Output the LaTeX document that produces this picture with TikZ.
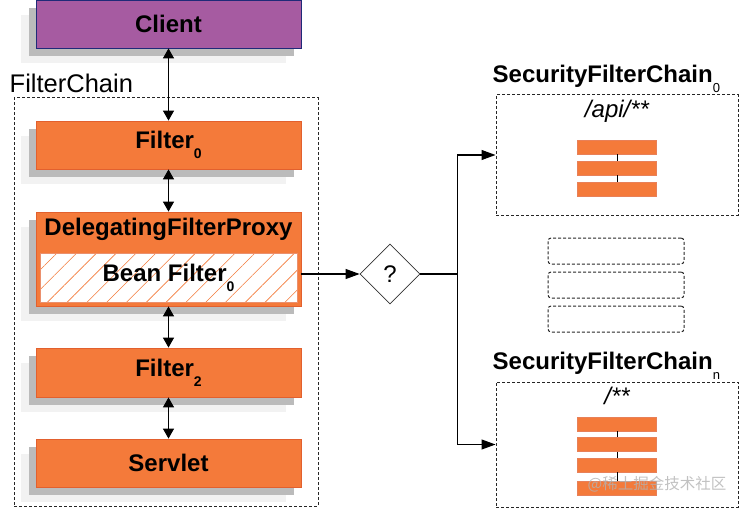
\documentclass[tikz,border=0pt]{standalone}
\usepackage{fontspec}
\setmainfont{Liberation Sans}
\newfontfamily\cjkfont{Noto Sans CJK SC}
\usepackage{tikz}
\usetikzlibrary{arrows.meta, positioning, shapes.geometric, shadows, patterns.meta}
\definecolor{springorange}{HTML}{F47A3A}
\definecolor{orangeline}{HTML}{E2602E}
\definecolor{clientpurple}{HTML}{A65BA1}
\definecolor{clientnavy}{HTML}{1F2A78}
\definecolor{shadowdark}{HTML}{BBBBBB}
\definecolor{shadowlight}{HTML}{F2F2F2}
\newcommand{\lowsub}[1]{\raisebox{-0.42em}{\fontsize{14}{14}\selectfont #1}}

\begin{document}
\begin{tikzpicture}[x=1pt, y=-1pt,
    stackshadow/.style={drop shadow={shadow xshift=-15pt, shadow yshift=-15pt, fill=shadowlight, opacity=1},
                        drop shadow={shadow xshift=-7pt, shadow yshift=-8pt, fill=shadowdark, opacity=1}},
    filterbox/.style={draw=orangeline, fill=springorange, line width=0.8pt, minimum width=265pt, minimum height=48pt,
                      inner sep=0pt, font=\fontsize{24}{28}\selectfont\bfseries, stackshadow},
    beanbox/.style={draw=orangeline!70, line width=0.8pt, preaction={fill=white},
                    pattern={Lines[angle=45, distance=14pt, line width=0.6pt]}, pattern color=springorange,
                    minimum width=257pt, minimum height=49pt, inner sep=0pt},
    boxtext/.style={font=\fontsize{24}{28}\selectfont\bfseries, inner sep=0pt},
    chaintitle/.style={font=\fontsize{24}{28}\selectfont\bfseries, inner sep=0pt, anchor=base west},
    pathtext/.style={font=\fontsize{24}{28}\selectfont\itshape, inner sep=0pt, anchor=base},
    dashedbox/.style={draw=black!85, line width=1pt, dash pattern=on 3pt off 2pt},
    decision/.style={draw=black!80, line width=0.8pt, diamond, minimum width=60pt, minimum height=60pt,
                     inner sep=0pt, font=\fontsize{24}{28}\selectfont},
    bar/.style={draw=orangeline!80, fill=springorange, line width=0.6pt, minimum width=79pt, minimum height=14pt, inner sep=0pt},
    barlink/.style={line width=0.8pt},
    dblarr/.style={{Triangle[length=10pt, width=11pt]}-{Triangle[length=10pt, width=11pt]}, line width=1.2pt},
    arr/.style={-{Triangle[length=14pt, width=10pt]}, line width=1.1pt}
]
    \useasboundingbox (0,0) rectangle (741,508);

    % FilterChain frame
    \node[dashedbox, minimum width=304pt, minimum height=408pt] (chain) at (166,302) {};
    \node[inner sep=0pt, anchor=base west, font=\fontsize{25.5}{30}\selectfont] (chainlabel)
        at ([xshift=-4pt, yshift=5pt]chain.north west) {FilterChain};

    % Client and filters
    \node[filterbox, fill=clientpurple, draw=clientnavy] (client) at (168.5,24) {Client};
    \node[filterbox] (filter0) at (168.5,145) {Filter\lowsub{0}};
    \node[filterbox, minimum height=94pt] (proxy) at (168.5,259) {};
    \node[boxtext, anchor=base] (proxytitle) at ([yshift=-24pt]proxy.north) {DelegatingFilterProxy};
    \node[beanbox] (bean) at (168.5,277.5) {};
    \node[boxtext] (beantext) at (bean.center) {Bean Filter\lowsub{0}};
    \node[filterbox, minimum height=49pt] (filter2) at (168.5,372.5) {Filter\lowsub{2}};
    \node[filterbox] (servlet) at (168.5,463) {Servlet};

    \draw[dblarr] (client) -- (filter0);
    \draw[dblarr] (filter0) -- (proxy);
    \draw[dblarr] (proxy) -- (filter2);
    \draw[dblarr] (filter2) -- (servlet);

    % Decision
    \node[decision] (decide) at (390,274) {?};
    \draw[arr] (proxy.east |- decide.west) -- (decide.west);
    \coordinate (split) at ([xshift=37pt]decide.east);
    \draw[line width=1.1pt] (decide.east) -- (split);

    % SecurityFilterChains
    \node[dashedbox, minimum width=242pt, minimum height=120pt] (sfc0) at (617,155) {};
    \node[dashedbox, minimum width=242pt, minimum height=125pt] (sfcn) at (617,444.5) {};
    \node[chaintitle] (sfc0label) at ([xshift=-3pt, yshift=12pt]sfc0.north west)
        {SecurityFilterChain\lowsub{\fontsize{13}{13}\selectfont\mdseries 0}};
    \node[chaintitle] (sfcnlabel) at ([xshift=-3pt, yshift=12pt]sfcn.north west)
        {SecurityFilterChain\lowsub{\fontsize{13}{13}\selectfont\mdseries n}};
    \node[pathtext] (api) at ([yshift=-23pt]sfc0.north) {/api/**};
    \node[pathtext] (all) at ([yshift=-23pt]sfcn.north) {/**};

    \draw[arr] (split) |- (sfc0.west);
    \draw[arr] (split) |- (sfcn.west);

    % filters inside the chains
    \foreach \y [count=\i] in {147,168,189}
        \node[bar] (a\i) at (617,\y) {};
    \foreach \i/\j in {1/2,2/3}
        \draw[barlink] (a\i.south) -- (a\j.north);
    \foreach \y [count=\i] in {424,444.5,465,488}
        \node[bar] (b\i) at (617,\y) {};
    \foreach \i/\j in {1/2,2/3,3/4}
        \draw[barlink] (b\i.south) -- (b\j.north);

    % more chains
    \foreach \y [count=\i] in {251,285,319}
        \node[dashedbox, rounded corners=3pt, minimum width=136pt, minimum height=26pt] (more\i) at (616,\y) {};

    \node[text=black!30, opacity=0.8, inner sep=0pt, font=\cjkfont\fontsize{15.5}{16}\selectfont] (mark) at (657,484) {@稀土掘金技术社区};
\end{tikzpicture}
\end{document}
